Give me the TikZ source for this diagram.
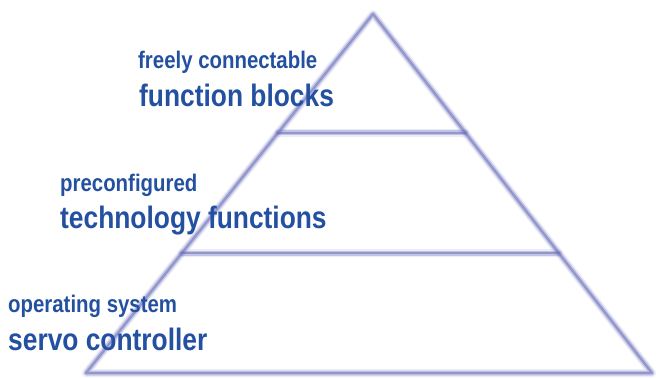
\documentclass[tikz,border=0pt]{standalone}
\usepackage{fontspec}
\newfontfamily\labfont[FakeStretch=0.85]{Liberation Sans}
\usetikzlibrary{calc}
\definecolor{txtblue}{RGB}{35,80,160}
\definecolor{pyrline}{RGB}{100,105,185}
\tikzset{
  smalllab/.style={anchor=base west, inner sep=0pt, text=txtblue,
    font=\labfont\bfseries\fontsize{24}{24}\selectfont},
  biglab/.style={anchor=base west, inner sep=0pt, text=txtblue,
    font=\labfont\bfseries\fontsize{31}{31}\selectfont},
  soft1/.style={draw=pyrline, line width=8pt, draw opacity=0.12, line join=round, line cap=round},
  soft2/.style={draw=pyrline, line width=5pt, draw opacity=0.3, line join=round, line cap=round},
  soft3/.style={draw=pyrline, line width=2.2pt, draw opacity=0.5, line join=round, line cap=round}
}
\begin{document}
\begin{tikzpicture}[x=1pt,y=-1pt]
\useasboundingbox[fill=white] (0,0) rectangle (657,378);
\coordinate (apex) at (373,14);
\coordinate (bl) at (86,373);
\coordinate (br) at (652,373);
\coordinate (l1) at ($(apex)!0.331!(bl)$);
\coordinate (r1) at ($(apex)!0.331!(br)$);
\coordinate (l2) at ($(apex)!0.666!(bl)$);
\coordinate (r2) at ($(apex)!0.666!(br)$);
\foreach \s in {soft1,soft2,soft3}{
  \path[\s] (apex) -- (bl) -- (br) -- cycle;
  \path[\s] (l1) -- (r1);
  \path[\s] (l2) -- (r2);
}
\node[smalllab] (fc) at (138,68) {freely connectable};
\node[biglab] (fb) at (139,106) {function blocks};
\node[smalllab] (pc) at (60,191) {preconfigured};
\node[biglab] (tf) at (60,228) {technology functions};
\node[smalllab] (os) at (8,312) {operating system};
\node[biglab] (sc) at (8,350) {servo controller};
\end{tikzpicture}
\end{document}
